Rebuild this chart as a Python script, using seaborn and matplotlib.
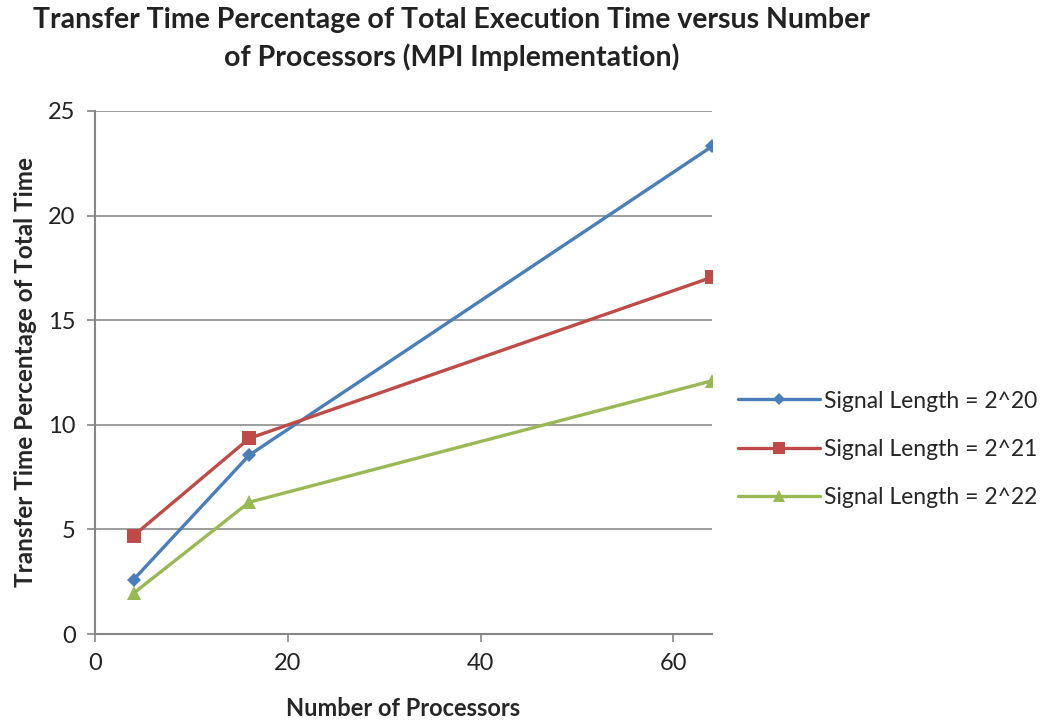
import numpy as np
import pandas as pd
import matplotlib
matplotlib.use("Agg")
import matplotlib.pyplot as plt
import seaborn as sns
from matplotlib.lines import Line2D

processors = [4, 16, 64]
series_names = ["Signal Length = 2^20", "Signal Length = 2^21", "Signal Length = 2^22"]
len_2_20 = [2.6, 8.55, 23.3]
len_2_21 = [4.7, 9.35, 17.05]
len_2_22 = [1.95, 6.3, 12.1]
y_ticks = [0, 5, 10, 15, 20, 25]
x_ticks = [0, 20, 40, 60]

sns.set_theme(style="white")
plt.rcParams['font.family'] = ['Lato', 'DejaVu Sans']

rows = []
for name, vals in zip(series_names, [len_2_20, len_2_21, len_2_22]):
    for p, v in zip(processors, vals):
        rows.append({"Processors": p, "Percent": v, "Series": name})
df = pd.DataFrame(rows)

colors = {series_names[0]: "#4a7ebb", series_names[1]: "#be4b48", series_names[2]: "#98b954"}
markers = {series_names[0]: "D", series_names[1]: "s", series_names[2]: "^"}
sizes_m = {series_names[0]: 7, series_names[1]: 10, series_names[2]: 10}

fig = plt.figure(figsize=(10.5, 7.25), dpi=100)
ax = fig.add_axes([0.0905, 0.1255, 0.5875, 0.7215])

sns.lineplot(data=df, x="Processors", y="Percent", hue="Series", style="Series",
             palette=colors, markers=markers, dashes=False, linewidth=2.4,
             markersize=9, markeredgewidth=0, ax=ax, legend=False)
for line, name in zip(ax.lines, series_names):
    line.set_markersize(sizes_m[name])

ax.set_xlim(0, 64)
ax.set_ylim(0, 25)
ax.set_xticks(x_ticks)
ax.set_yticks(y_ticks)
ax.yaxis.grid(True, color="#8c8c8c", linewidth=1.2)
ax.set_axisbelow(True)
for s in ["top", "right"]:
    ax.spines[s].set_visible(False)
for s in ["left", "bottom"]:
    ax.spines[s].set_color("#868686")
    ax.spines[s].set_linewidth(1.5)
ax.tick_params(axis="both", which="major", direction="out", length=6, width=1.2,
               color="#868686", labelsize=17, labelcolor="#222222", pad=8, bottom=True, left=True)
ax.set_xlabel("Number of Processors", fontsize=17, fontweight="bold", labelpad=16)
ax.set_ylabel("Transfer Time Percentage of Total Time", fontsize=17.5, fontweight="bold", labelpad=8)

fig.text(0.43, 0.99, "Transfer Time Percentage of Total Execution Time versus Number\nof Processors (MPI Implementation)",
         ha="center", va="top", fontsize=20.5, fontweight="bold", linespacing=1.45, color="#222222")

handles = [Line2D([], [], color=colors[n], marker=markers[n], linewidth=2.4,
                  markersize=sizes_m[n] * 0.9, markeredgewidth=0) for n in series_names]
fig.legend(handles, series_names, loc="center left", bbox_to_anchor=(0.683, 0.38),
           frameon=False, fontsize=16.5, handlelength=3.6, handletextpad=0.15, labelspacing=1.2)

fig.savefig("out.png", dpi=100)
